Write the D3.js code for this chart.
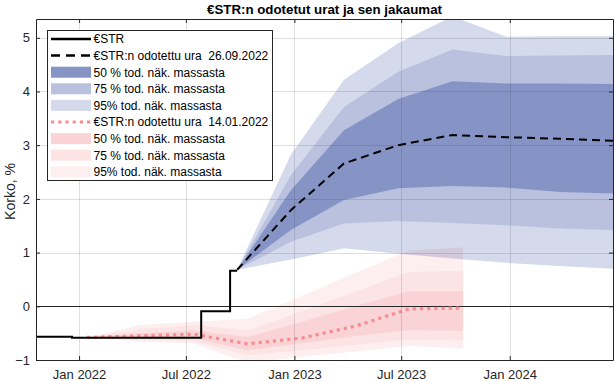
<!DOCTYPE html>
<html>
<head>
<meta charset="utf-8">
<script src="https://cdn.jsdelivr.net/npm/d3@7"></script>
<style>
  html, body { margin: 0; padding: 0; background: #fff; }
  svg { display: block; font-family: "Liberation Sans", Arial, Helvetica, sans-serif; }
</style>
</head>
<body>
<svg id="chart" width="615" height="381"></svg>
<script>
// ---------- DATA ----------
const titleText = "€STR:n odotetut urat ja sen jakaumat";
const yLabelText = "Korko, %";

// Realised €STR (step series)
const estrDates  = ["2021-10-20", "2021-12-20", "2022-07-27", "2022-09-14", "2022-09-26"];
const estrValues = [-0.565, -0.585, -0.09, 0.66, 0.66];

// Expected path 26.09.2022 and its distribution
const newDates  = ["2022-09-26", "2022-12-26", "2023-03-26", "2023-06-26", "2023-09-26", "2023-12-26", "2024-03-26", "2024-06-26"];
const newMean   = [0.68, 1.79, 2.66, 3.00, 3.19, 3.15, 3.12, 3.08];
const new50Hi   = [0.68, 2.16, 3.28, 3.86, 4.19, 4.15, 4.15, 4.14];
const new50Lo   = [0.68, 1.42, 1.98, 2.20, 2.24, 2.21, 2.13, 2.10];
const new75Hi   = [0.68, 2.44, 3.71, 4.37, 4.78, 4.66, 4.67, 4.68];
const new75Lo   = [0.68, 1.20, 1.54, 1.59, 1.55, 1.51, 1.45, 1.42];
const new95Hi   = [0.68, 2.82, 4.22, 4.90, 5.40, 5.02, 5.03, 5.03];
const new95Lo   = [0.68, 0.87, 1.08, 0.98, 0.89, 0.81, 0.75, 0.70];

// Expected path 14.01.2022 and its distribution
const oldDates  = ["2022-01-14", "2022-04-14", "2022-07-14", "2022-10-14", "2023-01-14", "2023-04-14", "2023-07-14", "2023-10-14"];
const oldMean   = [-0.58, -0.55, -0.52, -0.70, -0.59, -0.37, -0.05, -0.03];
const old50Hi   = [-0.58, -0.50, -0.45, -0.57, -0.29, 0.00, 0.28, 0.28];
const old50Lo   = [-0.58, -0.59, -0.59, -0.82, -0.69, -0.56, -0.44, -0.46];
const old75Hi   = [-0.58, -0.43, -0.35, -0.45, -0.09, 0.27, 0.64, 0.66];
const old75Lo   = [-0.58, -0.62, -0.64, -0.91, -0.82, -0.72, -0.62, -0.64];
const old95Hi   = [-0.58, -0.35, -0.29, -0.23, 0.19, 0.62, 1.04, 1.10];
const old95Lo   = [-0.58, -0.66, -0.69, -1.05, -0.94, -0.84, -0.74, -0.79];

// Axes
const xDomain     = ["2021-10-20", "2024-06-24"];
const xTickDates  = ["2022-01-01", "2022-07-01", "2023-01-01", "2023-07-01", "2024-01-01"];
const xTickLabels = ["Jan 2022", "Jul 2022", "Jan 2023", "Jul 2023", "Jan 2024"];
const yDomain     = [-1, 5.35];
const yTicks      = [-1, 0, 1, 2, 3, 4, 5];

// Legend
const legendLabels = [
  "€STR",
  "€STR:n odotettu ura  26.09.2022",
  "50 % tod. näk. massasta",
  "75 % tod. näk. massasta",
  "95% tod. näk. massasta",
  "€STR:n odotettu ura  14.01.2022",
  "50 % tod. näk. massasta",
  "75 % tod. näk. massasta",
  "95% tod. näk. massasta"
];

// ---------- STYLE ----------
const C = {
  axis: "#262626",
  blue50: "#8594c5", blue75: "#b9c1de", blue95: "#d4d9eb",
  red50: "#f9d3d5", red75: "#fce3e4", red95: "#fdeeef",
  redLine: "#f98c91"
};
const FONT = '"Liberation Sans", Arial, Helvetica, sans-serif';

// ---------- CHART ----------
const parse = d3.utcParse("%Y-%m-%d");
const svg = d3.select("#chart");
const L = 36, R = 613, T = 19, B = 360;

const x = d3.scaleUtc().domain(xDomain.map(parse)).range([L, R]);
const y = d3.scaleLinear().domain(yDomain).range([B, T]);

svg.append("defs").append("clipPath").attr("id", "clip")
  .append("rect").attr("x", L).attr("y", T).attr("width", R - L).attr("height", B - T);

const plot = svg.append("g").attr("clip-path", "url(#clip)");

function band(dates, lo, hi) {
  const pts = dates.map((d, i) => ({ d: parse(d), lo: lo[i], hi: hi[i] }));
  return d3.area().x(p => x(p.d)).y0(p => y(p.lo)).y1(p => y(p.hi))(pts);
}
function line(dates, vals, curve) {
  const pts = dates.map((d, i) => ({ d: parse(d), v: vals[i] }));
  return d3.line().x(p => x(p.d)).y(p => y(p.v)).curve(curve || d3.curveLinear)(pts);
}

// red bands (old forecast)
const gRed = plot.append("g");
gRed.append("path").attr("d", band(oldDates, old95Lo, old95Hi)).attr("fill", C.red95);
gRed.append("path").attr("d", band(oldDates, old75Lo, old75Hi)).attr("fill", C.red75);
gRed.append("path").attr("d", band(oldDates, old50Lo, old50Hi)).attr("fill", C.red50);

// blue bands (new forecast), blended as a group
const gBlue = plot.append("g").style("mix-blend-mode", "multiply").style("isolation", "isolate");
gBlue.append("path").attr("d", band(newDates, new95Lo, new95Hi)).attr("fill", C.blue95);
gBlue.append("path").attr("d", band(newDates, new75Lo, new75Hi)).attr("fill", C.blue75);
gBlue.append("path").attr("d", band(newDates, new50Lo, new50Hi)).attr("fill", C.blue50);

// grid (semi-transparent, on top of bands)
const grid = svg.append("g").attr("stroke", C.axis).attr("stroke-opacity", 0.15).attr("stroke-width", 1);
xTickDates.forEach(d => {
  const xx = Math.round(x(parse(d))) + 0.5;
  grid.append("line").attr("x1", xx).attr("x2", xx).attr("y1", T).attr("y2", B);
});
yTicks.forEach(v => {
  const yy = Math.round(y(v)) + 0.5;
  grid.append("line").attr("x1", L).attr("x2", R).attr("y1", yy).attr("y2", yy);
});

// zero line
plot.append("line").attr("x1", L).attr("x2", R)
  .attr("y1", Math.round(y(0)) + 0.5).attr("y2", Math.round(y(0)) + 0.5)
  .attr("stroke", C.axis).attr("stroke-width", 1);

// old expected path (dotted)
plot.append("path").attr("d", line(oldDates, oldMean)).attr("fill", "none")
  .attr("stroke", C.redLine).attr("stroke-width", 3.2).attr("stroke-dasharray", "3.2,4");

// realised €STR
plot.append("path").attr("d", line(estrDates, estrValues, d3.curveStepAfter)).attr("fill", "none")
  .attr("stroke", "#000").attr("stroke-width", 2);

// new expected path (dashed)
plot.append("path").attr("d", line(newDates, newMean)).attr("fill", "none")
  .attr("stroke", "#000").attr("stroke-width", 2).attr("stroke-dasharray", "8,5");

// axes
const xTicksParsed = xTickDates.map(parse);
const axB = svg.append("g").attr("transform", `translate(0,${B})`)
  .call(d3.axisBottom(x).tickValues(xTicksParsed).tickFormat((d, i) => xTickLabels[i])
    .tickSizeInner(-4).tickSizeOuter(0).tickPadding(10));
const axT = svg.append("g").attr("transform", `translate(0,${T})`)
  .call(d3.axisTop(x).tickValues(xTicksParsed).tickFormat("").tickSizeInner(-4).tickSizeOuter(0));
const axL = svg.append("g").attr("transform", `translate(${L},0)`)
  .call(d3.axisLeft(y).tickValues(yTicks).tickFormat(d3.format("d")).tickSizeInner(-4).tickSizeOuter(0).tickPadding(6));
const axR = svg.append("g").attr("transform", `translate(${R},0)`)
  .call(d3.axisRight(y).tickValues(yTicks).tickFormat("").tickSizeInner(-4).tickSizeOuter(0));
[axB, axT, axL, axR].forEach(a => {
  a.selectAll("path.domain").attr("stroke", C.axis).attr("stroke-width", 1);
  a.selectAll(".tick line").attr("stroke", C.axis);
  a.selectAll("text").attr("fill", C.axis).style("font-size", "13px").style("font-family", FONT);
});

// title
svg.append("text").attr("x", (L + R) / 2).attr("y", 13.5).attr("text-anchor", "middle")
  .style("font-size", "13.3px").style("font-weight", "bold").attr("fill", "#000").text(titleText);

// y label
svg.append("text").attr("transform", `translate(15,${(T + B) / 2 + 2}) rotate(-90)`)
  .attr("text-anchor", "middle").style("font-size", "14px").attr("fill", C.axis).text(yLabelText);

// legend
const lg = svg.append("g");
lg.append("rect").attr("x", 47.5).attr("y", 30.5).attr("width", 225).attr("height", 150)
  .attr("fill", "#fff").attr("stroke", C.axis).attr("stroke-width", 1);
const rowY0 = 39, rowDy = 16.6, sx0 = 51, sx1 = 91, tx = 93.5;
const legendKinds = [
  { type: "line", stroke: "#000", w: 2.5, dash: null },
  { type: "line", stroke: "#000", w: 2.5, dash: "9,6" },
  { type: "rect", fill: C.blue50 },
  { type: "rect", fill: C.blue75 },
  { type: "rect", fill: C.blue95 },
  { type: "line", stroke: C.redLine, w: 3.2, dash: "3.2,4" },
  { type: "rect", fill: C.red50 },
  { type: "rect", fill: C.red75 },
  { type: "rect", fill: C.red95 }
];
legendLabels.forEach((lab, i) => {
  const yy = rowY0 + i * rowDy;
  const k = legendKinds[i];
  if (k.type === "line") {
    lg.append("line").attr("x1", sx0).attr("x2", sx1).attr("y1", yy).attr("y2", yy)
      .attr("stroke", k.stroke).attr("stroke-width", k.w).attr("stroke-dasharray", k.dash);
  } else {
    lg.append("rect").attr("x", sx0).attr("y", yy - 5.5).attr("width", sx1 - sx0).attr("height", 11)
      .attr("fill", k.fill);
  }
  lg.append("text").attr("x", tx).attr("y", yy + 4.3).style("font-size", "12px")
    .style("white-space", "pre").attr("fill", "#000").text(lab);
});
</script>
</body>
</html>
